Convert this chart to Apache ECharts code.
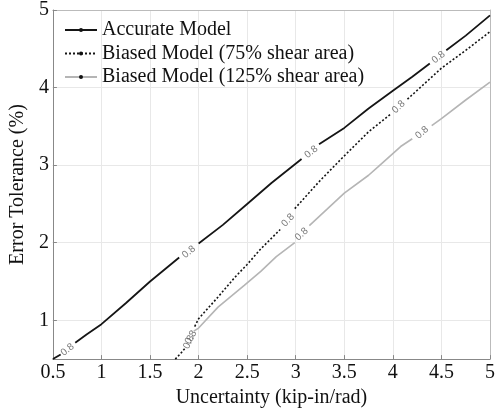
<!DOCTYPE html>
<html><head><meta charset="utf-8">
<script src="https://cdn.jsdelivr.net/npm/echarts@6/dist/echarts.min.js"></script>
<style>html,body{margin:0;padding:0;background:#fff}#c{width:498px;height:413px}</style>
</head><body><div id="c"></div>
<script>
// series data: [x, y]; null marks a gap where a contour label sits
var accurate = [[0.5,0.5],[0.58,0.56],null,[0.73,0.71],[0.85,0.82],[1.0,0.95],[1.25,1.22],[1.5,1.5],[1.8,1.81],null,[2.0,1.99],[2.25,2.23],[2.5,2.5],[2.75,2.77],[3.06,3.08],null,[3.24,3.27],[3.5,3.48],[3.75,3.73],[4.0,3.96],[4.2,4.14],[4.38,4.31],null,[4.55,4.48],[4.75,4.67],[5.0,4.93]];
var biased75 = [[1.76,0.5],[1.82,0.58],[1.86,0.64],null,[1.96,0.92],[2.0,1.02],[2.1,1.16],[2.2,1.30],[2.37,1.55],[2.5,1.72],[2.64,1.92],[2.84,2.17],null,[2.99,2.44],[3.25,2.8],[3.5,3.12],[3.75,3.43],[3.98,3.66],null,[4.15,3.85],[4.5,4.25],[4.75,4.48],[5.0,4.72]];
var biased125 = [[1.95,0.86],[2.0,0.9],[2.2,1.17],[2.47,1.45],[2.64,1.63],[2.8,1.82],[2.99,2.0],null,[3.14,2.22],[3.5,2.64],[3.75,2.87],[3.85,2.98],[4.08,3.24],[4.2,3.34],null,[4.4,3.51],[4.5,3.6],[4.75,3.84],[5.0,4.07]];
// contour label positions (level 0.8)
var accLabels = [[0.65,0.62],[1.9,1.88],[3.16,3.17],[4.47,4.39]];
var b75Labels = [[1.9,0.72],[2.92,2.29],[4.06,3.75]];
var b125Labels = [[1.92,0.78],[3.06,2.11],[4.3,3.42]];
var contourLevel = '0.8';
var seriesNames = ['Accurate Model','Biased Model (75% shear area)','Biased Model (125% shear area)'];
var xTicks = [0.5,1,1.5,2,2.5,3,3.5,4,4.5,5];
var yTicks = [1,2,3,4,5];

var accRot = [38,40,38,38];
var b75Rot = [65,47,44];
var b125Rot = [60,42,40];

function toLine(arr){
  return arr.map(function(p, i){ return p ? p : [arr[i-1][0], '-']; });
}
function labelData(arr, rots){
  return arr.map(function(p, i){ return {value:p, label:{rotate:rots[i]}}; });
}
var serif = 'Liberation Serif';
var FS = 20;
var chart = echarts.init(document.getElementById('c'), null, {renderer:'canvas'});
var labelSeries = function(arr, rots){
  return {type:'scatter', data:labelData(arr, rots), symbolSize:0, silent:true, z:5,
    label:{show:true, position:'inside', formatter:contourLevel, fontFamily:'Liberation Sans', fontSize:10, color:'#555'}};
};
chart.setOption({
  animation:false,
  grid:{left:47, right:3, top:9, bottom:52},
  legend:{orient:'vertical', left:59, top:15, itemWidth:32, itemHeight:5, itemGap:3.5,
    textStyle:{fontFamily:serif, fontSize:FS, color:'#111'},
    data:[{name:seriesNames[0], itemStyle:{color:'#111'}},{name:seriesNames[1], itemStyle:{color:'#111'}},{name:seriesNames[2], itemStyle:{color:'#111'}}]},
  xAxis:[{type:'value', min:0.5, max:5, interval:0.5, name:'Uncertainty (kip-in/rad)', nameLocation:'middle', nameGap:26,
    nameTextStyle:{fontFamily:serif, fontSize:FS, color:'#111'},
    axisLine:{lineStyle:{color:'#888'}}, axisTick:{inside:true, length:4, lineStyle:{color:'#888'}},
    axisLabel:{fontFamily:serif, fontSize:FS, color:'#111', margin:4, formatter:function(v){return String(v);}},
    splitLine:{show:true, lineStyle:{color:'#e8e8e8'}}},
   {type:'value', position:'top', min:0.5, max:5, interval:0.5, axisLine:{show:true, lineStyle:{color:'#bbb'}}, axisTick:{show:false}, axisLabel:{show:false}, splitLine:{show:false}}],
  yAxis:[{type:'value', min:0.5, max:5, name:'Error Tolerance (%)', nameLocation:'middle', nameGap:19,
    nameTextStyle:{fontFamily:serif, fontSize:FS, color:'#111'},
    axisLine:{show:true, lineStyle:{color:'#888'}}, axisTick:{show:true, inside:true, length:4, customValues:yTicks, lineStyle:{color:'#888'}},
    axisLabel:{fontFamily:serif, fontSize:FS, color:'#111', margin:4, customValues:yTicks},
    splitLine:{show:true, lineStyle:{color:'#e8e8e8'}}},
   {type:'value', position:'right', min:0.5, max:5, axisLine:{show:true, lineStyle:{color:'#bbb'}}, axisTick:{show:false}, axisLabel:{show:false}, splitLine:{show:false}}],
  series:[
    {name:seriesNames[0], type:'line', data:toLine(accurate), showSymbol:false, symbol:'circle', symbolSize:6, connectNulls:false,
      lineStyle:{color:'#151515', width:1.8}, itemStyle:{color:'#151515'}},
    {name:seriesNames[1], type:'line', data:toLine(biased75), showSymbol:false, symbol:'circle', symbolSize:6, connectNulls:false,
      lineStyle:{color:'#151515', width:1.6, type:[2,2]}, itemStyle:{color:'#151515'}},
    {name:seriesNames[2], type:'line', data:toLine(biased125), showSymbol:false, symbol:'circle', symbolSize:6, connectNulls:false,
      lineStyle:{color:'#b5b5b5', width:1.6}, itemStyle:{color:'#b5b5b5'}},
    labelSeries(accLabels, accRot),
    labelSeries(b75Labels, b75Rot),
    labelSeries(b125Labels, b125Rot)
  ]
});
</script></body></html>
